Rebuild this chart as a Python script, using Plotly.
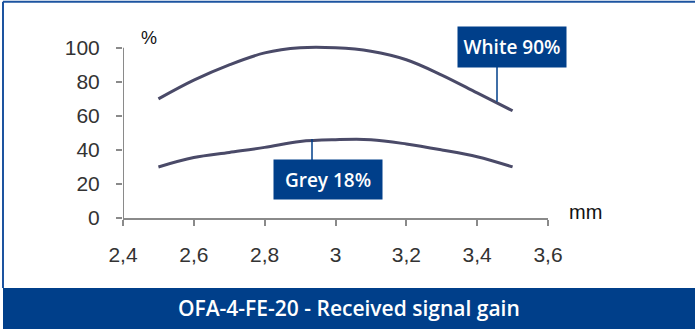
import plotly.graph_objects as go

# distance (mm) vs received signal (%)
dist_mm = [2.5, 2.6, 2.7, 2.8, 2.9, 3.0, 3.1, 3.2, 3.3, 3.4, 3.5]
white_90 = [70, 81, 90, 97, 100, 100, 98, 93, 84, 73.5, 63]
grey_18 = [30, 35.5, 38.5, 41.5, 45, 46, 46, 43.5, 40, 36, 30]

x_ticks = [2.4, 2.6, 2.8, 3.0, 3.2, 3.4, 3.6]
x_ticktext = ["2,4", "2,6", "2,8", "3", "3,2", "3,4", "3,6"]
y_ticks = [0, 20, 40, 60, 80, 100]

W, H = 695, 329
L, R, T, B = 123, 548, 41.2, 218   # plot area in pixels
BLUE = "#003f8a"
LINE = "#4a4a68"


def px(p):
    return (p - L) / (R - L)


def py(q):
    return (B - q) / (B - T)


fig = go.Figure()
for ys in (white_90, grey_18):
    fig.add_trace(go.Scatter(x=dist_mm, y=ys, mode="lines",
                             line=dict(color=LINE, width=3, shape="spline", smoothing=1.0),
                             showlegend=False, hoverinfo="skip"))

tick_font = dict(family="Liberation Sans", size=21, color="#333333")
fig.update_xaxes(range=[2.4, 3.6], tickvals=x_ticks, ticktext=x_ticktext,
                 showline=True, linecolor="#8a8a8a", linewidth=2,
                 ticks="outside", ticklen=6, tickwidth=2, tickcolor="#8a8a8a",
                 showgrid=False, zeroline=False, ticklabelstandoff=11, tickfont=tick_font)
fig.update_yaxes(range=[0, 104], tickvals=y_ticks,
                 showline=False, ticks="outside", ticklen=6, tickwidth=2, tickcolor="#8a8a8a",
                 showgrid=False, zeroline=False, ticklabelstandoff=12, tickfont=tick_font)

shapes = [
    # y axis line, stops at 100
    dict(type="line", xref="x", yref="y", x0=2.4, x1=2.4, y0=0, y1=100,
         line=dict(color="#8a8a8a", width=2)),
    # leader lines
    dict(type="line", xref="paper", yref="paper", x0=px(497), x1=px(497), y0=py(67), y1=py(102),
         line=dict(color=BLUE, width=1.5)),
    dict(type="line", xref="paper", yref="paper", x0=px(312), x1=px(312), y0=py(139), y1=py(160),
         line=dict(color=BLUE, width=1.5)),
    # bottom banner
    dict(type="rect", xref="paper", yref="paper", x0=px(3), x1=px(700), y0=py(288), y1=py(335),
         fillcolor=BLUE, line=dict(width=0), layer="below"),
    # frame
    dict(type="line", xref="paper", yref="paper", x0=px(3), x1=px(700), y0=py(2), y1=py(2),
         line=dict(color="#1d54a0", width=2)),
    dict(type="line", xref="paper", yref="paper", x0=px(3), x1=px(3), y0=py(2), y1=py(288),
         line=dict(color="#1d54a0", width=2)),
]

label_font = dict(family="Open Sans", size=19, color="white", weight=600)
annotations = [
    dict(x=px(149), y=py(38), text="%",
         font=dict(family="Liberation Sans", size=18, color="#111111")),
    dict(x=px(585), y=py(212), text="mm",
         font=dict(family="Liberation Sans", size=20, color="#111111")),
    dict(x=px(512), y=py(47), text="White 90%",
         width=108, height=40, bgcolor=BLUE, borderpad=0, font=label_font),
    dict(x=px(328), y=py(179.5), text="Grey 18%",
         width=108, height=39, bgcolor=BLUE, borderpad=0, font=label_font),
    dict(x=px(349), y=py(308), text="OFA-4-FE-20 - Received signal gain",
         font=dict(family="Open Sans", size=21, color="white", weight=600)),
]
for a in annotations:
    a.update(xref="paper", yref="paper", xanchor="center", yanchor="middle", showarrow=False)

fig.update_layout(width=W, height=H, margin=dict(l=L, r=W - R, t=T, b=H - B),
                  plot_bgcolor="white", paper_bgcolor="white",
                  shapes=shapes, annotations=annotations)

fig.write_html("out.html", config={"displayModeBar": False},
               post_script="document.body.style.margin='0';")
